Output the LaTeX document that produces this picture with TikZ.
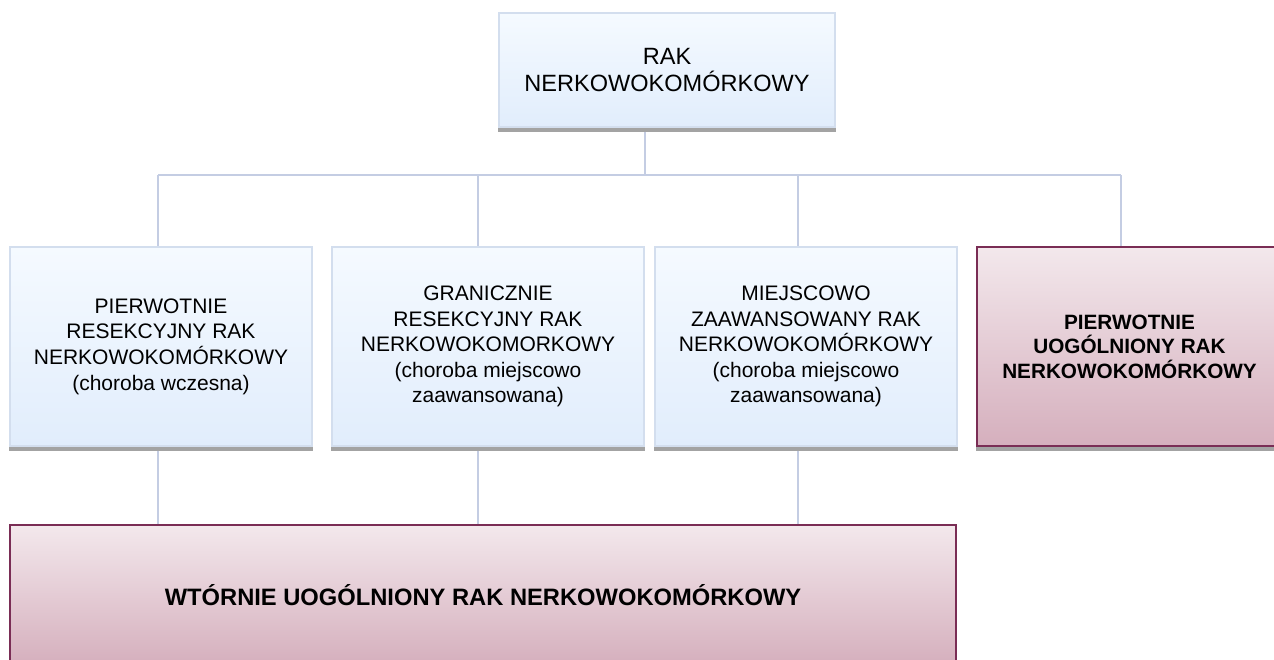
\documentclass[tikz,border=0pt]{standalone}
\usepackage{fontspec}
\setmainfont{Liberation Sans}
\usepackage{xcolor}
\usepackage{tikz}
\usetikzlibrary{positioning,calc}

\definecolor{linkblue}{HTML}{C4CDE3}
\definecolor{bluetop}{HTML}{F5FAFF}
\definecolor{bluebot}{HTML}{E1EDFC}
\definecolor{blueedge}{HTML}{D3DEEE}
\definecolor{redtop}{HTML}{F3E8EC}
\definecolor{redbot}{HTML}{D5AFBD}
\definecolor{rededge}{HTML}{7A2D55}
\definecolor{shadowgray}{HTML}{A3A3A3}

\begin{document}
\begin{tikzpicture}[x=0.02cm, y=-0.02cm,
    link/.style={draw=linkblue, line width=1.1pt},
    bluebox/.style={draw=blueedge, line width=0.8pt, top color=bluetop, bottom color=bluebot,
        inner sep=0pt, align=center, font=\fontsize{11.95}{14.6}\selectfont},
    redbox/.style={draw=rededge, line width=1.1pt, top color=redtop, bottom color=redbot,
        inner sep=0pt, align=center, font=\bfseries\fontsize{11.8}{14}\selectfont},
    boxshadow/.style={fill=shadowgray}]
    \useasboundingbox (0,0) rectangle (1274,659);
    \clip (0,0) rectangle (1274,659);
    \fill[white] (0,0) rectangle (1274,659);

    % Top box
    \node[bluebox, minimum width=6.72cm, minimum height=2.28cm,
        font=\fontsize{13.4}{15.2}\selectfont] (rak) at (667,70) {RAK\\NERKOWOKOMÓRKOWY};

    % Middle row
    \node[bluebox, minimum width=6.04cm, minimum height=3.98cm] (p1) at (161,346.5)
        {PIERWOTNIE\\RESEKCYJNY RAK\\NERKOWOKOMÓRKOWY\\(choroba wczesna)};
    \node[bluebox, minimum width=6.24cm, minimum height=3.98cm] (p2) at (488,346.5)
        {GRANICZNIE\\RESEKCYJNY RAK\\NERKOWOKOMORKOWY\\(choroba miejscowo\\zaawansowana)};
    \node[bluebox, minimum width=6.04cm, minimum height=3.98cm] (p3) at (806,346.5)
        {MIEJSCOWO\\ZAAWANSOWANY RAK\\NERKOWOKOMÓRKOWY\\(choroba miejscowo\\zaawansowana)};
    \node[redbox, minimum width=6.10cm, minimum height=3.98cm] (p4) at (1129.5,346.5)
        {PIERWOTNIE\\UOGÓLNIONY RAK\\NERKOWOKOMÓRKOWY};

    % Bottom box
    \node[redbox, minimum width=18.92cm, minimum height=2.8cm,
        font=\bfseries\fontsize{13.5}{16}\selectfont] (wtornie) at (483,595)
        {WTÓRNIE UOGÓLNIONY RAK NERKOWOKOMÓRKOWY};

    % Shadows
    \foreach \n in {rak,p1,p2,p3,p4}
        \fill[boxshadow] (\n.south west) rectangle ([yshift=-0.08cm]\n.south east);

    % Connectors
    \coordinate (d0) at (645,175);
    \coordinate (d1) at (158,175);
    \coordinate (d2) at (478,175);
    \coordinate (d3) at (798,175);
    \coordinate (d4) at (1121,175);
    \draw[link] ([yshift=-0.08cm]d0 |- rak.south) -- (d0);
    \draw[link] (d1) -- (d4);
    \foreach \d/\n in {d1/p1, d2/p2, d3/p3, d4/p4}
        \draw[link] (\d) -- (\d |- \n.north);
    \foreach \d/\n in {d1/p1, d2/p2, d3/p3}
        \draw[link] ([yshift=-0.08cm]\d |- \n.south) -- (\d |- wtornie.north);
\end{tikzpicture}
\end{document}
